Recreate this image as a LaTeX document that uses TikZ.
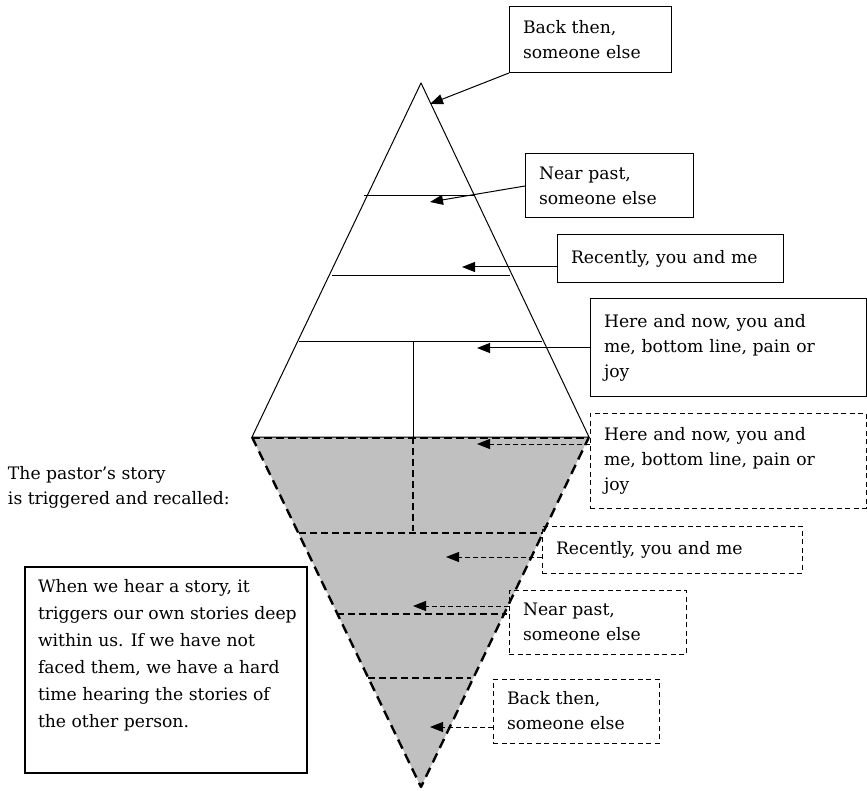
\documentclass[tikz,border=0pt]{standalone}
\usepackage{fontspec}
\setmainfont{DejaVu Serif}
\usetikzlibrary{arrows.meta}
\begin{document}
\begin{tikzpicture}[x=1pt,y=-1pt,
  every node/.style={font=\fontsize{17.2}{25}\selectfont, outer sep=0pt},
  labelbox/.style={draw, line width=1pt, inner xsep=14pt, inner ysep=0pt, align=left, anchor=north west},
  dashbox/.style={labelbox, dash pattern=on 5pt off 3.5pt},
  arr/.style={line width=1pt, -{Triangle[length=13pt,width=10pt]}},
  darr/.style={arr, dash pattern=on 5pt off 3pt},
  edge/.style={line width=1pt},
  dline/.style={line width=1.2pt, dash pattern=on 7pt off 4pt}]
\useasboundingbox (0,0) rectangle (867,791);

% lower (hidden) triangle
\fill[fill={rgb,255:red,192;green,192;blue,192}] (252,437) -- (589,437) -- (421,787) -- cycle;
\draw[line width=2.4pt, dash pattern=on 10pt off 6pt, line join=round] (252,437) -- (421,787) -- (589,437);
\draw[line width=1.6pt, dash pattern=on 8pt off 4pt] (252,438) -- (589,438);
\draw[dline] (299,533) -- (542,533);
\draw[dline] (337,614) -- (507,614);
\draw[dline] (368,678) -- (471,678);
\draw[dline] (413,437) -- (413,531);

% upper (visible) triangle
\draw[edge, line join=round] (252,437) -- (421,83) -- (589,437) -- cycle;
\draw[edge] (364,196) -- (475,196);
\draw[edge] (332,276) -- (510,276);
\draw[edge] (299,342) -- (542,342);
\draw[edge] (413,342) -- (413,437);

% upper labels
\node[labelbox, text width=134pt, minimum height=66pt] (b1) at (509,7) {Back then,\\someone else};
\node[labelbox, text width=140pt, minimum height=64pt] (b2) at (525,154) {Near past,\\someone else};
\node[labelbox, text width=198pt, minimum height=48pt] (b3) at (557,235) {Recently, you and me};
\node[labelbox, text width=248pt, minimum height=97pt] (b4) at (590,299) {Here and now, you and\\me, bottom line, pain or\\joy};

% lower labels
\node[dashbox, text width=248pt, minimum height=95pt] (b5) at (590,413) {Here and now, you and\\me, bottom line, pain or\\joy};
\node[dashbox, text width=232pt, minimum height=47pt] (b6) at (542,526) {Recently, you and me};
\node[dashbox, text width=149pt, minimum height=64pt] (b7) at (509,590) {Near past,\\someone else};
\node[dashbox, text width=138pt, minimum height=64pt] (b8) at (493,679) {Back then,\\someone else};

% arrow targets
\coordinate (t1) at (430,104);
\coordinate (t2) at (430,202);
\coordinate (t3) at (462,267);
\coordinate (t4) at (477,348);
\coordinate (t5) at (477,444);
\coordinate (t6) at (446,557);
\coordinate (t7) at (413,606);
\coordinate (t8) at (430,727);

\draw[arr] (b1.south west) -- (t1);
\draw[arr] (b2.west) -- (t2);
\draw[arr] (b3.west |- t3) -- (t3);
\draw[arr] (b4.west |- t4) -- (t4);
\draw[darr] (b5.west |- t5) -- (t5);
\draw[darr] (b6.west |- t6) -- (t6);
\draw[darr] (b7.west |- t7) -- (t7);
\draw[darr] (b8.west |- t8) -- (t8);

% side notes
\node[anchor=north west, align=left, inner sep=0pt] (caption) at (8,466) {The pastor’s story\\is triggered and recalled:};
\node[draw, line width=2pt, inner xsep=13pt, inner ysep=7pt, anchor=north west] (note) at (25,567)
  {\parbox[t][192pt][t]{256pt}{\fontsize{17.2}{27}\selectfont
    \begin{tabular}[t]{@{}l@{}}
      When we hear a story, it\\
      triggers our own stories deep\\
      within us. If we have not\\
      faced them, we have a hard\\
      time hearing the stories of\\
      the other person.
    \end{tabular}}};
\end{tikzpicture}
\end{document}
